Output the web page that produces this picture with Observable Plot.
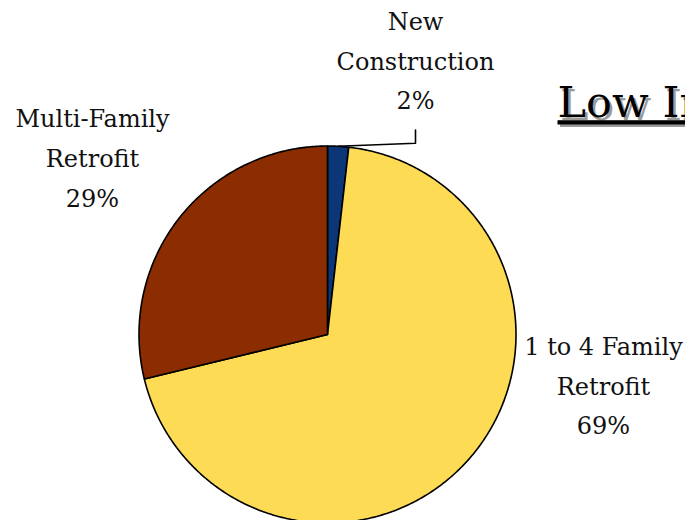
<!DOCTYPE html>
<html>
<head>
<meta charset="utf-8">
<script src="https://cdn.jsdelivr.net/npm/d3@7"></script>
<script src="https://cdn.jsdelivr.net/npm/@observablehq/plot@0.6"></script>
<style>
  html, body { margin: 0; padding: 0; background: #fff; }
  .title-text text { text-decoration: underline; }
</style>
</head>
<body>
<div id="chart"></div>
<script>
// ---- data ----
const categories = ["New Construction", "1 to 4 Family Retrofit", "Multi-Family Retrofit"];
const shares = [1.8, 69.4, 28.8];
const labelText = ["New\nConstruction\n2%", "1 to 4 Family\nRetrofit\n69%", "Multi-Family\nRetrofit\n29%"];
const sliceColors = ["#0B3778", "#FDDB55", "#8B2D00"];
const titleText = ["Low Income"];

// ---- layout (pixels) ----
const W = 685, H = 520;
const CX = 327, CY = 334, R = 188.5;
const px = v => (v - CX) / R;        // pixel x -> data x
const py = v => (CY - v) / R;        // pixel y -> data y
const FS = 24, LH = 40, TFS = 43;
// middle-line baselines of each label
const labelAt = [[415, 69], [603, 394], [92, 166.7]];

// pie geometry from data
const arcs = d3.pie().sort(null).startAngle(0).endAngle(2 * Math.PI)(shares);
const slicePts = [];
arcs.forEach((a, i) => {
  slicePts.push({cat: categories[i], x: 0, y: 0});
  const n = Math.max(4, Math.ceil((a.endAngle - a.startAngle) / 0.01));
  for (let k = 0; k <= n; k++) {
    const t = a.startAngle + (a.endAngle - a.startAngle) * k / n;
    slicePts.push({cat: categories[i], x: Math.sin(t), y: Math.cos(t)});
  }
});

const labels = categories.map((c, i) => ({cat: c, text: labelText[i], x: px(labelAt[i][0]), y: py(labelAt[i][1] - 0.32 * LH)}));

// leader line for the small slice
const mid0 = (arcs[0].startAngle + arcs[0].endAngle) / 2;
const leader = [
  {x: px(labelAt[0][0]), y: py(129.5)},
  {x: px(labelAt[0][0]), y: py(142.7)},
  {x: Math.sin(mid0), y: Math.cos(mid0)}
];

const titles = titleText.map(t => ({text: t, x: px(557), y: py(116.7 - 0.32 * TFS)}));

const chart = Plot.plot({
  width: W, height: H, margin: 0,
  style: {fontFamily: "'DejaVu Serif', serif", background: "#fff", overflow: "hidden"},
  x: {domain: [px(0), px(W)], axis: null},
  y: {domain: [py(H), py(0)], axis: null},
  color: {domain: categories, range: sliceColors},
  marks: [
    Plot.line(slicePts, {x: "x", y: "y", z: "cat", fill: "cat", stroke: "black", strokeWidth: 1.6, curve: "linear-closed", strokeLinejoin: "round"}),
    Plot.line(leader, {x: "x", y: "y", stroke: "black", strokeWidth: 1.6}),
    Plot.text(labels, {x: "x", y: "y", text: "text", fontSize: FS, lineHeight: LH / FS, fill: "#111"}),
    Plot.text(titles, {x: "x", y: "y", text: "text", textAnchor: "start", fontSize: TFS, fill: "#9a9a9a", dx: 2.5, dy: 2.5, className: "title-text"}),
    Plot.text(titles, {x: "x", y: "y", text: "text", textAnchor: "start", fontSize: TFS, fill: "#000", className: "title-text"})
  ]
});
document.getElementById("chart").appendChild(chart);
</script>
</body>
</html>
